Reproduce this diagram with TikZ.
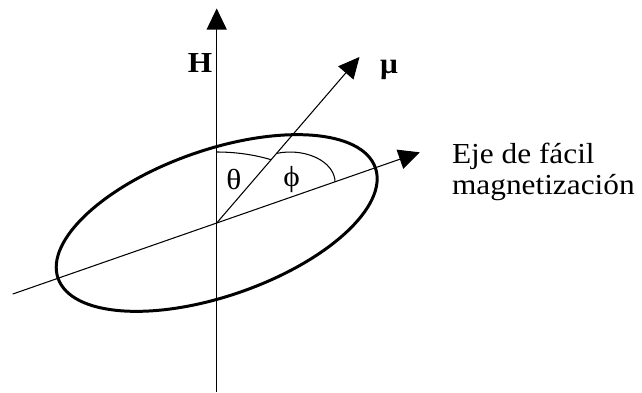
\documentclass[tikz,border=0pt]{standalone}
\usepackage{fontspec}
\setmainfont{Liberation Serif}
\usetikzlibrary{arrows.meta,positioning,calc}

\begin{document}
\begin{tikzpicture}[
    thinline/.style={line width=0.6pt},
    tip/.style={-{Triangle[length=0.42cm,width=0.4cm]}},
    lbl/.style={inner sep=0pt,xscale=1.08,font=\fontsize{16.5}{17.5}\selectfont}]
  \useasboundingbox (-4.334,-3.38) rectangle (8.506,4.46);
  % Points
  \coordinate (O) at (0,0);
  \coordinate (Htop) at (0,4.29);
  \coordinate (Hbot) at (0,-3.38);
  \coordinate (mutip) at (49.3:4.38);
  \coordinate (eatip) at (19.2:4.3);
  \coordinate (eaend) at (199.2:4.32);
  \coordinate (thetaA) at (0,1.42);
  \coordinate (phiA) at ($(1.466,0.82)+(107.3:0.9 and 0.6)$);
  % Ellipse
  \draw[line width=1.7pt,rotate=19.2] (O) ellipse (3.36 and 1.46);
  % Axes
  \draw[thinline,tip] (Hbot) -- (Htop);
  \draw[thinline,tip] (eaend) -- (eatip);
  \draw[thinline,tip] (O) -- (mutip);
  % Angles
  \draw[thinline] (thetaA) arc[start angle=90,end angle=63,x radius=2.4,y radius=1.42];
  \draw[thinline] (phiA) arc[start angle=107.3,end angle=0,x radius=0.9,y radius=0.6];
  % Labels
  \node[lbl] (Hlbl) at (-0.334,3.2) {\textbf{H}};
  \node[lbl] (mulbl) at (3.446,3.06) {\textbf{μ}};
  \node[lbl] (thetalbl) at (0.346,0.88) {θ};
  \node[lbl] (philbl) at (1.5,0.87) {ϕ};
  \node[lbl,anchor=base west] (ejeA) at (4.7,1.194) {Eje de fácil};
  \node[lbl,anchor=base west] (ejeB) at (4.7,0.58) {magnetización};
\end{tikzpicture}
\end{document}
